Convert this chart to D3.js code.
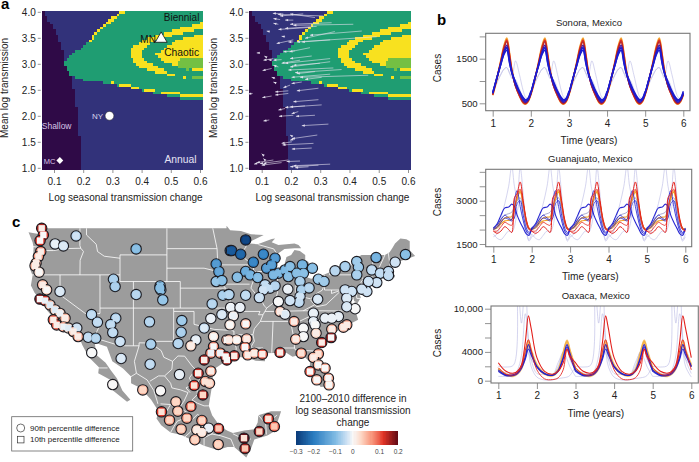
<!DOCTYPE html>
<html>
<head>
<meta charset="utf-8">
<script src="https://cdnjs.cloudflare.com/ajax/libs/d3/7.8.5/d3.min.js"></script>
<style>
html, body { margin: 0; padding: 0; background: #fff; }
text { font-family: "Liberation Sans", Arial, sans-serif; }
</style>
</head>
<body>
<svg id="fig" width="699" height="462"></svg>
<script>
// ---- panel a regimes, outlines in (log seasonal change, mean log transmission)
var shallowOutline = [[.04,4.1],[.063,4.03],[.109,3.58],[.132,3.26],[.138,3.0],[.16,2.75],[.175,2.3],[.186,1.66],[.195,.95],[.04,.95]];
var chaosOutline = [[.134,2.97],[.143,3.13],[.178,3.26],[.214,3.42],[.258,3.71],[.315,3.97],[.347,4.05],[.61,4.05],[.61,2.3],[.53,2.35],[.429,2.46],[.303,2.62],[.2,2.7],[.16,2.78]];
var yellowBand = [[.21,3.42],[.25,3.71],[.31,3.97],[.32,4.05],[.351,4.05],[.326,3.94],[.263,3.68],[.218,3.39]];
var crescentOuter = [[.61,3.81],[.52,3.68],[.429,3.52],[.372,3.36],[.355,3.17],[.395,2.94],[.452,2.85],[.49,2.85],[.474,2.91],[.429,3.01],[.4,3.17],[.4,3.26],[.429,3.42],[.52,3.58],[.61,3.68]];
var centreBlob = [[.61,3.58],[.53,3.49],[.48,3.33],[.452,3.2],[.469,3.07],[.52,2.97],[.566,2.91],[.61,2.85]];
var lightPatch = [[.53,3.1],[.61,3.15],[.61,2.95],[.58,2.95],[.56,2.88],[.52,2.95]];
var yellowDashes = [[.297,.309,2.64,2.69],[.328,.36,2.58,2.62],[.363,.395,2.53,2.58],[.408,.446,2.48,2.53],[.463,.531,2.43,2.48],[.531,.61,2.36,2.41],[.49,.515,2.78,2.83],[.54,.555,2.73,2.77]];
var lightDashes = [[.575,.61,2.75,2.79]];
var regimeColors = {shallow: "#2f0a47", annual: "#32327a", green: "#1f9d72", yellow: "#f8e11f", light: "#74c043"};

var tickX = [.1,.2,.3,.4,.5,.6];
var tickY = [1,1.5,2,2.5,3,3.5,4];

// x tail, y tail, x head, y head
var arrowRows = [
[.174,3.96,.138,3.97],[.311,3.92,.155,3.95],[.242,3.96,.163,3.92],[.282,3.89,.197,3.96],[.163,3.85,.14,3.87],
[.208,3.84,.18,3.84],[.157,3.76,.14,3.78],[.339,3.79,.197,3.76],[.413,3.76,.208,3.74],[.265,3.70,.157,3.66],
[.126,3.62,.117,3.63],[.288,3.72,.18,3.68],[.442,3.63,.265,3.55],[.35,3.62,.248,3.49],[.493,3.52,.22,3.42],
[.334,3.46,.237,3.42],[.208,3.42,.191,3.42],[.208,3.46,.151,3.39],[.18,3.52,.168,3.53],[.265,3.31,.195,3.23],
[.214,3.25,.174,3.23],[.089,3.21,.083,3.21],[.115,3.13,.109,3.15],[.14,3.10,.106,3.07],[.134,3.07,.123,3.08],
[.168,3.08,.14,3.07],[.231,3.07,.168,3.01],[.271,3.15,.197,3.10],[.334,3.10,.18,3.01],[.299,3.01,.208,2.97],
[.334,3.04,.197,2.94],[.134,2.91,.103,2.87],[.157,2.94,.14,2.97],[.345,2.92,.191,2.88],[.373,2.89,.214,2.83],
[.282,2.85,.22,2.81],[.464,2.78,.231,2.74],[.334,2.80,.202,2.74],[.305,2.74,.248,2.70],[.146,2.72,.134,2.74],
[.149,2.63,.14,2.65],[.237,2.65,.202,2.62],[.197,2.59,.174,2.54],[.294,2.53,.22,2.48],[.191,2.48,.146,2.46],
[.191,2.43,.146,2.40],[.069,2.43,.054,2.42],[.134,2.38,.102,2.35],[.294,2.31,.208,2.27],[.18,2.14,.157,2.11],
[.248,2.19,.18,2.16],[.305,2.21,.197,2.17],[.225,2.08,.202,2.04],[.208,2.01,.159,1.99],[.282,2.01,.217,1.99],
[.126,1.92,.106,1.90],[.328,1.84,.237,1.81],[.203,1.61,.197,1.63],[.29,1.63,.203,1.56],[.214,1.56,.197,1.53],
[.203,1.50,.168,1.47],[.277,1.47,.171,1.44],[.271,1.38,.203,1.36],[.106,1.24,.1,1.27],[.111,1.15,.106,1.18],
[.191,1.15,.094,1.08],[.14,1.15,.083,1.10],[.168,1.10,.1,1.05],[.117,1.10,.106,1.06],[.231,1.13,.185,1.12],
[.334,1.07,.208,1.04],[.294,1.05,.197,1.02],[.26,1.02,.214,1.0],[.092,1.10,.074,1.07]];

// ---- panel b, one repeating cycle of cases per location
var sonoraT = [0,.1,.2,.3,.37,.44,.5,.6,.7,.8,.86,.93,1];
var sonoraOrange = [680,1010,1400,1800,1960,1620,1260,900,680,510,480,540,690];
var sonoraRed = [690,1020,1390,1770,1920,1600,1250,890,670,520,490,550,700];
var sonoraDark = [700,1030,1380,1740,1880,1560,1240,880,680,530,500,560,700];
var sonoraPurple = [720,1040,1360,1680,1800,1500,1210,900,720,560,520,570,720];
var sonoraBlue = [730,1040,1340,1640,1750,1450,1190,950,750,600,550,590,740];
var sonoraBlue2 = [740,1040,1330,1600,1690,1400,1200,980,780,630,580,620,770];
var sonoraPale = [720,960,1130,1270,1300,1180,1060,1450,1150,780,640,600,720];
var sonoraPale2 = [700,930,1120,1270,1300,1180,1100,1030,830,620,560,600,700];

var guanaT = [0,.1,.2,.3,.4,.48,.55,.62,.7,.78,.86,.93,1];
var guanaBlue = [2050,2200,2500,2750,2780,2880,2800,2500,2250,2050,1850,1800,2050];
var guanaBlue2 = [2000,2080,2250,2400,2350,2300,2400,2900,3000,2500,2050,1900,2000];
var guanaBlue3 = [2020,2150,2350,2500,2400,2350,3000,3350,2800,2300,1950,1850,2020];
var guanaRed = [1950,1870,1950,2100,2000,1900,3100,3250,3650,3000,2350,2050,1950];
var guanaRed2 = [1950,1950,2100,2250,2180,2150,2650,3200,3400,2900,2250,2000,1950];
var guanaOrange = [2000,2050,2200,2300,2320,2350,2700,3050,3350,2900,2300,2050,2000];
var guanaOrange2 = [2020,2100,2280,2400,2430,2450,2800,3100,3300,2850,2280,2030,2020];
var guanaGrey = [2050,2150,2350,2500,2550,2600,2800,3000,3100,2700,2200,2000,2050];
var guanaPale = [1750,1850,2400,2900,3500,4200,3500,3100,4150,3200,2000,1600,1750];
var guanaPale2 = [1850,1700,1650,1800,1950,1900,2100,2600,3000,2400,1900,1650,1850];

var oaxacaT = [0,.2,.4,.5,.6,.7,.78,.85,1,1.2,1.4,1.55,1.68,1.78,1.85,2];
var oaxacaRed = [2500,1300,1050,1350,2200,5400,9000,7300,3200,1300,900,1300,2500,4400,3500,2500];
var oaxacaRed2 = [1800,900,800,1100,1900,4200,5700,4300,1500,250,150,400,1500,4400,3300,1800];
var oaxacaOrange = [1700,900,750,1100,1900,3700,5500,4300,2200,1000,750,1500,3800,5600,4300,1700];
var oaxacaOrange2 = [1500,800,650,950,1700,3400,5000,4000,2000,900,700,1400,3600,5400,4100,1500];
var oaxacaBlue = [1500,800,850,1150,1900,3300,5000,4000,2000,1000,750,1400,3200,5000,3900,1500];
var oaxacaBlue2 = [1300,700,750,1000,1700,3000,4400,3600,1900,950,750,1300,3000,4700,3500,1300];
var oaxacaPale = [2000,1900,2200,14000,8000,14000,5000,2000,500,100,100,300,400,500,700,2000];
var oaxacaPale2 = [600,600,700,1500,3500,9300,6000,3000,1000,900,800,2000,4000,3000,2000,600];
var oaxacaPale3 = [1500,1100,1000,1300,2300,4500,3800,3000,2000,1000,800,2500,4000,4500,3000,1500];

var yearTicks = [1,2,3,4,5,6];
var lineBlue = "#1c1cd0", lineRed = "#e3201c", lineOrange = "#f2a52e", linePale = "#bcbce6";

// ---- panel c map, lon/lat
var landOutline = [[-122.8,49],[-95.15,49],[-95.15,49.4],[-94.6,48.7],[-93,48.6],[-91.5,48.1],[-89.6,48],[-92.1,46.75],[-90.5,46.6],[-88.4,47.4],[-87.9,47.47],[-88.4,46.9],[-87.4,46.5],[-85,46.7],[-84.4,46.5],[-84,46],[-85,46],[-86.5,45.9],[-87.6,45.1],[-88,44.55],[-87.3,45.2],[-87.5,44.2],[-87.9,43],[-87.8,42.2],[-87.5,41.7],[-86.9,41.7],[-86.3,42.4],[-86.5,43.6],[-86.2,44.7],[-85.5,45],[-85,45.75],[-84.2,45.6],[-83.4,45],[-83.4,44],[-83.9,43.7],[-83,44.05],[-82.45,43],[-83.1,42.2],[-83.4,41.7],[-82.5,41.4],[-81.2,41.8],[-79,42.7],[-79,43.25],[-76.8,43.3],[-76.2,43.6],[-76.3,44.2],[-75,45],[-71.5,45],[-70.8,45.4],[-70.3,46.2],[-70,46.7],[-69.2,47.45],[-68.3,47.35],[-67.8,47.05],[-67.8,45.7],[-67,44.85],[-68.5,44.3],[-70,43.8],[-70.7,43],[-70.8,42.6],[-71,42.3],[-70.6,41.95],[-70,42],[-70,41.65],[-71.2,41.5],[-72.9,41.25],[-73.7,40.95],[-72,41.05],[-74,40.55],[-74.1,39.7],[-74.9,38.95],[-75.5,39.5],[-75.1,38.6],[-75.9,37.2],[-76.2,38.5],[-76.4,39.2],[-76.5,38],[-76.3,37],[-75.9,36.6],[-75.5,35.25],[-76.6,34.7],[-77.9,33.9],[-79.1,33.3],[-81,32.05],[-81.4,30.7],[-81.3,29.8],[-80.5,28.3],[-80.05,26.8],[-80.4,25.2],[-81.1,25.15],[-81.8,26.1],[-82.7,27.8],[-82.7,28.9],[-83.9,30.05],[-85.3,29.7],[-86.4,30.4],[-88,30.25],[-89.5,30.2],[-89.4,29],[-90.8,29.1],[-92,29.55],[-93.8,29.7],[-95,29.2],[-97.2,27.7],[-97.2,26],[-97.8,22.3],[-97.3,20.9],[-96.1,19.2],[-95,18.55],[-94.2,18.2],[-92.5,18.6],[-91,18.8],[-90.5,19.8],[-90.4,20.9],[-88.5,21.5],[-87,21.5],[-87.5,20],[-88,18.5],[-88.9,17.9],[-89.15,17.8],[-91,17.25],[-91.4,16.1],[-92.2,14.55],[-94,16.1],[-95,16.1],[-96.5,15.65],[-98.5,16.3],[-100,17],[-102,17.95],[-103.5,18.3],[-104.9,19.4],[-105.6,20.4],[-105.3,21.5],[-106.4,23.2],[-108,25],[-109.4,25.7],[-109.4,26.7],[-110.6,27.9],[-112.2,29],[-113,31.2],[-114.8,31.8],[-114.7,30.8],[-114.6,30],[-113.2,28.8],[-112.4,27.6],[-111.5,26.4],[-110.7,24.6],[-109.5,23.2],[-110,22.9],[-112.1,24.6],[-112.1,26],[-114.3,27.2],[-114.2,28.1],[-115.7,29.6],[-116.7,31.5],[-117.1,32.53],[-117.3,33],[-118.4,33.75],[-118.5,34.03],[-119.2,34.15],[-120.6,34.55],[-120.7,35.2],[-121.9,36.6],[-122.5,37.7],[-123.8,39.3],[-124.35,40.4],[-124.1,41.9],[-124.5,42.9],[-124,44.7],[-123.95,46.2],[-124.1,46.9],[-124.7,48.4],[-123.2,48.15],[-122.7,48.1]];

var stateLines = [
[[-124,46.25],[-123,46.1],[-122.8,45.65],[-121,45.65],[-119.3,45.95],[-116.9,46]],
[[-117.03,49],[-117.04,46.4],[-116.9,46],[-116.5,45.5],[-117,44.2],[-117.03,42]],
[[-124.2,42],[-111.05,42]],[[-120,42],[-120,39],[-114.63,35],[-114.1,34.3],[-114.5,33.5],[-114.72,32.72]],
[[-114.04,42],[-114.04,36.2],[-114.75,36.1],[-114.63,35]],[[-114.04,37],[-94.62,37]],
[[-109.05,41],[-109.05,31.33]],[[-111.05,45],[-111.05,41],[-102.05,41]],[[-111.05,45],[-104.05,45]],[[-104.05,49],[-104.05,41]],
[[-116.05,49],[-116.05,48],[-114.6,46.6],[-114.4,45.5],[-113.4,44.8],[-111.05,44.5]],
[[-104.05,45.94],[-96.56,45.94]],[[-104.05,43],[-98.5,43],[-96.45,42.5]],
[[-102.05,41],[-102.05,37]],[[-102.05,40],[-95.3,40]],
[[-103.04,37],[-103.04,32],[-106.6,32],[-106.5,31.75]],
[[-103,36.5],[-100,36.5],[-100,34.56],[-97,33.8],[-94.5,33.65],[-94.04,33.55],[-94.04,32],[-93.7,31],[-93.8,29.7]],
[[-94.04,33],[-91.2,33]],[[-94.43,35.4],[-94.5,33.65]],[[-95.3,40],[-94.62,39.1],[-94.62,36.5],[-94.43,35.4]],
[[-94.62,36.5],[-90.15,36.5],[-90.37,36],[-89.7,36]],
[[-97.2,49],[-96.56,45.94],[-96.45,43.5],[-91.2,43.5]],[[-95.8,40.6],[-91.7,40.6]],[[-96.45,43.5],[-96.45,42.5],[-95.8,40.6],[-95.3,40]],
[[-92.1,46.75],[-92.3,46.1],[-92.8,45.5],[-92.8,44.75],[-91.2,43.5],[-91.1,42.7],[-90.2,41.8],[-91.1,41.2],[-91.4,40.4],[-91.5,40],[-90.7,39],[-90.2,38.7],[-89.5,37.3],[-89.15,37],[-89.7,36],[-90.1,35],[-91,33.9],[-91.2,33],[-91,32],[-91.6,31],[-89.7,31],[-89.8,30.5],[-89.5,30.2]],
[[-90.6,42.5],[-87.8,42.5]],[[-90.4,46.55],[-88.1,45.9],[-87.6,45.1]],[[-87.53,41.7],[-87.53,39.3],[-88,37.9]],
[[-89.15,37],[-88,37.9],[-86.5,38],[-85.7,38.3],[-84.8,39.1],[-83.7,38.65],[-82.6,38.4],[-81.7,39.2],[-80.85,39.7],[-80.52,40.65]],
[[-84.8,39.1],[-84.8,41.72]],[[-86.8,41.76],[-84.8,41.72],[-83.4,41.73]],[[-80.52,39.72],[-80.52,42]],
[[-79.76,42.25],[-79.76,42],[-75.35,42],[-74.7,41.35],[-75.1,40.9],[-74.75,40.2],[-75.5,39.8]],[[-80.52,39.72],[-75.8,39.72],[-75.7,38.46],[-75.05,38.45]],
[[-75.9,37.95],[-76.3,38],[-77.05,38.8],[-78.3,39.6],[-79.48,39.2],[-79.48,39.72]],[[-78.3,39.4],[-80.3,37.5],[-81.7,37.2],[-82,37.5],[-82.6,38.2]],
[[-75.9,36.55],[-81.7,36.6],[-83.7,36.6],[-88.05,36.5],[-89.4,36.5]],[[-83.7,36.6],[-82,37.5]],[[-90.1,35],[-84.3,35],[-82,36.1],[-81.7,36.6]],
[[-83.1,35],[-82.4,35.2],[-81,35.1],[-80.8,34.8],[-79.7,34.8],[-78.6,33.85]],[[-83.1,35],[-81.4,33],[-81,32.05]],
[[-85.6,35],[-85.1,32.5],[-85,31],[-84.85,30.7],[-82.2,30.55],[-81.4,30.7]],[[-87.6,31],[-85,31]],[[-87.6,31],[-87.5,30.3]],[[-88.2,35],[-88.4,30.3]],
[[-73.35,45],[-73.3,42.75],[-73.5,41.3]],[[-71.5,45],[-72.4,43],[-72.45,42.72]],[[-73.27,42.75],[-71.3,42.7],[-70.8,42.85]],
[[-73.5,42.05],[-71.4,42],[-71.2,41.5]],[[-71.8,42],[-71.85,41.3]],[[-71,45.3],[-70.7,43.1]],
// mexico border and states
[[-117.1,32.53],[-114.72,32.72],[-114.8,32.5],[-111,31.33],[-108.2,31.33],[-108.2,31.78],[-106.5,31.75],[-104.9,30.6],[-104.5,29.6],[-103.2,29],[-102.4,29.8],[-101.4,29.77],[-100.3,28.3],[-99.5,27.5],[-99.1,26.4],[-97.2,26]],
[[-114.9,28],[-112.9,28]],[[-108.2,31.33],[-108.9,29],[-108.6,27.2],[-109.4,26.7]],[[-108.6,27.2],[-107,26.2],[-106,24.6],[-105.5,23],[-105.4,22.6]],
[[-103.2,29],[-103.3,27.8],[-104.4,26.8],[-105.3,26.8],[-106.6,26]],[[-104.4,26.8],[-103.5,25.7],[-103.3,25],[-102,24.7],[-100.9,24.3],[-101.5,23],[-102.2,22],[-102.8,21.8],[-103.5,22.5],[-105,22.6]],
[[-99.8,27.7],[-100.7,26.5],[-100.2,25.5],[-101.2,25],[-100.6,24.3]],[[-99.1,26.4],[-99.6,25.5],[-99.5,24],[-100.3,23.2],[-99.5,22.7],[-98.5,22.3],[-97.8,22.3]],
[[-103.5,18.3],[-103,19.2],[-102.5,20],[-101.5,20.4],[-100.5,20]],[[-105.3,21.5],[-104.4,21],[-103.5,22.5]],[[-98.5,16.3],[-98.5,17.5],[-97.3,18.1],[-97.1,19.2]],
[[-97.5,18.1],[-96,17.8],[-94.5,17.3],[-94,16.1]],[[-94.2,18.1],[-93,17.5],[-91.5,17.3]],[[-90.4,20.9],[-89.3,19.6],[-89.2,18]],[[-89.3,19.6],[-87.6,20.9]],
[[-101.5,17.5],[-100.5,18.4],[-100.3,19.1],[-98.7,19.2]],[[-100.5,20],[-99.5,21],[-98.5,20.5],[-98.7,19.2]],[[-102.2,22],[-101,21.3],[-100.5,20]]];

// lon, lat, 90th percentile difference, 10th percentile difference
var cityRows = [
[-117.6,47.85,-.05,-.03],[-120.74,46.65,-.02,-.01],[-119.5,46.35,-.03,-.02],[-108.64,45.9,-.1,-.09],[-120,39.5,-.03,-.02],
[-115.3,36.03,-.06,-.04],[-114.42,34.88,-.05,-.04],[-111.68,35.48,-.06,-.04],[-112.43,34.52,-.06,-.04],[-112.13,33.32,-.05,-.04],[-111.03,31.97,-.04,-.03],
[-112.03,41.34,-.07,-.06],[-111.78,40.24,-.07,-.06],[-105.06,40.34,-.1,-.09],[-104.96,39.74,-.1,-.09],[-105.1,40,-.1,-.09],[-104.66,38.23,-.08,-.08],[-108.64,39.04,-.06,-.05],
[-106.65,34.93,-.06,-.05],[-101.82,35.13,-.08,-.07],[-101.92,33.37,-.07,-.06],[-102.37,31.67,-.06,-.05],[-106.45,31.57,-.07,-.06],[-110.88,29.42,-.03,-.02],[-106.55,28.56,-.05,-.04],[-102.17,27,-.02,-.01],
[-115.8,32.62,-.05,-.04],[-114.67,32.47,-.07,-.05],[-115.27,30.3,-.005,0],[-112.13,25.5,.005,0],
[-99.73,32.22,-.02,-.01],[-100.47,31.32,.03,.01],[-98.48,34,-.04,-.02],[-97.49,35.43,-.01,-.01],[-95.84,36.03,-.03,-.02],[-97.29,37.63,-.06,-.05],[-95.69,38.93,-.07,-.06],[-94.85,39.03,-.07,-.06],
[-96.69,43.64,-.17,-.15],[-96.29,42.49,-.15,-.13],[-96.69,40.99,-.08,-.08],[-95.84,41.14,-.1,-.09],[-94.6,45.65,-.27,-.25],
[-92.29,47.25,-.3,-.28],[-94.38,45.65,-.27,-.25],[-93.04,45.1,-.25,-.23],[-91.15,43.9,-.2,-.18],[-89.65,45.1,-.2,-.18],[-87.91,44.5,-.17,-.15],[-89.16,43,-.17,-.14],[-88.41,43.5,-.17,-.14],[-87.41,42.24,-.12,-.1],[-88.16,42,-.12,-.1],
[-92.29,42.5,-.13,-.12],[-91.64,42,-.12,-.11],[-90.5,41.6,-.11,-.09],[-93.54,41.64,-.1,-.09],[-86.42,42.74,-.12,-.1],[-85.67,43.24,-.1,-.09],[-85.92,41.74,-.1,-.09],[-83.83,43.5,-.12,-.11],[-82.33,43,-.1,-.09],[-83.68,42.24,-.1,-.09],[-84.67,42.24,-.1,-.09],
[-81.44,41.34,-.08,-.07],[-80.59,41,-.08,-.07],[-78.95,42.6,-.05,-.05],[-77.45,43.24,-.07,-.06],[-75.71,44,-.08,-.07],[-75.46,43.14,-.08,-.07],[-75.71,42,-.07,-.06],[-73.47,42.74,-.05,-.04],[-72.82,44.6,-.12,-.11],[-69.98,43.9,-.03,-.03],[-68.44,45.05,-.1,-.09],
[-72.22,42.24,-.05,-.04],[-70.98,42.49,-.05,-.04],[-70.98,41.9,-.05,-.04],[-72.72,40.84,-.04,-.03],[-73.97,41,-.04,-.03],[-74.2,39.5,-.04,-.03],[-74.96,39.84,-.03,-.03],
[-89.4,40.5,-.05,-.04],[-88.66,40,-.05,-.04],[-87.91,40.34,-.06,-.05],[-89.65,39.74,-.04,-.03],[-86,39.84,-.01,-.01],[-84.18,41,-.07,-.06],[-83.93,39.74,-.07,-.06],[-82.83,40.04,-.06,-.05],[-84.18,38.74,-.04,-.03],[-84.33,37.88,-.05,-.04],[-85.67,38.13,-.03,-.03],[-81.54,38.33,-.03,-.02],[-87.41,37.98,-.005,0],[-90.25,38.58,-.04,-.03],[-92.29,38.93,-.05,-.04],[-94.78,39.03,-.06,-.05],
[-77.45,39.74,-.04,-.03],[-76.46,39.5,-.04,-.03],[-77.2,38.5,-.03,-.02],[-75.96,36.9,-.002,0],[-77.2,37.2,-.03,-.02],
[-94.53,37.1,0,-.01],[-93.14,37.1,-.01,-.01],[-94.13,35.83,.01,-.01],[-94.63,34.48,.02,0],[-92.29,34.63,.05,0],
[-87.16,36.48,.04,.01],[-86.42,36.08,-.01,-.02],[-85.07,34.98,.06,.01],[-82.18,36.23,-.02,-.01],[-82.18,34.98,-.02,-.01],[-80.44,35.48,-.015,-.01],[-78.45,35.73,-.02,-.01],[-79.44,35.48,-.01,-.01],[-81.93,34.48,-.01,0],[-83.68,33.98,-.005,0],[-83.68,32.72,-.005,0],[-84.82,32.32,.05,.01],[-81.78,33.22,.03,.01],[-79.44,33.82,.05,.01],[-77.2,34.48,.06,.01],[-77.7,34.13,.05,.01],
[-122.74,49,.15,.01],[-122.49,48,.12,0],[-122.98,47.15,.12,0],[-122.88,45.5,.08,.01],[-123.23,44.75,.07,.01],[-123.58,43.75,.05,.01],[-123.73,43.35,.05,.01],[-123.13,42.4,.02,0],
[-122.6,40.5,.05,.01],[-122,39.75,.03,0],[-123,38.35,.18,0],[-122.24,38.13,.12,-.01],[-121.5,37.48,.05,-.02],[-120.74,36.73,.03,-.02],[-120,36.2,.03,-.01],[-119.25,35.48,.05,.01],[-121,35.23,.1,.01],[-120.5,34.47,.1,.01],[-119.5,34.2,.06,-.01],[-118.75,34,.03,-.02],[-117.5,34,-.03,-.03],[-118,33.47,.05,.01],[-117.3,32.72,.06,.01],
[-97.09,32.72,.03,0],[-95.1,32.22,.06,0],[-97.09,31.22,.08,0],[-97.49,30.22,.08,-.01],[-98.48,29.2,.16,.01],[-96.09,30.22,.07,-.01],[-95.1,29.2,.15,0],[-99.38,27.2,.14,.01],[-97.49,27.51,.06,.01],[-98.33,25.96,.06,.02],[-97.69,25.7,.05,.02],[-99.98,25.36,.12,.02],[-98.68,23.95,.16,.03],
[-94.78,32.22,.05,.01],[-93.64,32.22,.03,0],[-92.14,32.37,.05,.01],[-92.39,31.12,.08,0],[-91.99,29.97,.07,.01],[-91,30.22,.06,.01],[-89.8,30.07,.1,.01],[-87.16,30.32,.14,.01],[-84,30.22,.07,.02],[-81.44,30.12,.07,.02],[-82.18,29.57,.05,.01],[-81.44,28.46,.05,0],[-80.44,27.96,.06,0],[-82.68,27.46,.1,0],[-81.68,26.21,.05,0],[-79.94,26.46,.06,0],[-79.84,25.46,.05,0],[-93.99,29.82,.14,.01],[-95.28,29.72,.15,0],
[-79.54,32.57,.17,0],[-80.94,31.82,.15,.01],
[-107.65,24.7,.05,.03],[-105,24.56,.005,0],[-102.7,22.9,.04,.03],[-100.47,22.2,.1,.03],[-104.86,21.4,.12,.02],[-102.42,21.5,.05,.03],[-103.66,20.15,.07,.03],[-101.07,20.45,.07,.03],[-98.83,20.1,.07,.03],[-96.34,18.9,.14,.04],[-97.83,18.95,-.01,-.01],[-99.58,18.7,.03,.01],[-98.83,18.3,.03,.01],[-101.92,18.8,.05,.03],[-99.88,17.2,.05,.03],[-96.39,16.5,.05,.03],
[-88.91,20.35,.12,.02],[-88.01,19.2,.1,.04],[-90.25,18.44,.17,.03],[-92.54,17.44,.2,.02],[-92.39,15.89,.16,.04]];

var legendTitle = ["2100\u20132010 difference in", "log seasonal transmission", "change"];
var barTicks = [-.3,-.2,-.1,0,.1,.2];
var barLabels = ["\u22120.3","\u22120.2","\u22120.1","0","0.1","0.2"];
var diffStops = [-.3,-.2,-.1,-.03,0,.03,.07,.12,.2];
var diffColors = ["#0a3a78","#2a7cc0","#7fbae3","#d0e3f4","#f8f8f8","#fdd8c6","#f8977c","#e23426","#5f0a14"];

var svg = d3.select("#fig");
var textCol = "#222";

function styleAxis(g, size) {
    g.select(".domain").remove();
    g.selectAll("line").attr("stroke", "#777").attr("stroke-width", 0.8);
    g.selectAll("text").attr("fill", textCol).attr("font-size", size + "px").attr("font-family", "Liberation Sans");
}

function regimeAt(cx, cy) {
    var p = [cx, cy];
    var hit = function(d) { return cx >= d[0] && cx <= d[1] && cy >= d[2] && cy <= d[3]; };
    if (d3.polygonContains(shallowOutline, p)) return "shallow";
    if (!d3.polygonContains(chaosOutline, p)) return "annual";
    if (lightDashes.some(hit) || d3.polygonContains(lightPatch, p)) return "light";
    if (yellowDashes.some(hit)) return "yellow";
    if (d3.polygonContains(yellowBand, p) || d3.polygonContains(crescentOuter, p) || d3.polygonContains(centreBlob, p)) return "yellow";
    return "green";
}

function drawRegime(left, right, titleX, xTitleAt, withArrows) {
    var x = d3.scaleLinear().domain([.1,.6]).range([left, right]);
    var y = d3.scaleLinear().domain([1,4]).range([167.8, 11.8]);
    var g = svg.append("g").attr("shape-rendering", "crispEdges");
    var stepX = .0095, stepY = .05;
    var cells = [];
    d3.range(.058, .601, stepX).forEach(function(cx) {
        d3.range(.975, 4.02, stepY).forEach(function(cy) {
            cells.push({x: cx, y: cy, r: regimeAt(cx + stepX / 2, cy + stepY / 2)});
        });
    });
    g.selectAll("rect").data(cells).enter().append("rect")
        .attr("x", function(d) { return x(d.x); })
        .attr("y", function(d) { return y(d.y + stepY); })
        .attr("width", x(stepX) - x(0) + .6)
        .attr("height", y(0) - y(stepY) + .6)
        .attr("fill", function(d) { return regimeColors[d.r]; });

    var ax = svg.append("g").attr("transform", "translate(0,170)")
        .call(d3.axisBottom(x).tickValues(tickX).tickSize(3).tickPadding(5).tickFormat(d3.format(".1f")));
    styleAxis(ax, 10);
    var ay = svg.append("g").attr("transform", "translate(" + (x(.058) - 1) + ",0)")
        .call(d3.axisLeft(y).tickValues(tickY).tickSize(3).tickPadding(2).tickFormat(d3.format(".1f")));
    styleAxis(ay, 10);

    svg.append("text").attr("x", xTitleAt).attr("y", 200.5).attr("text-anchor", "middle")
        .attr("font-size", "10px").attr("fill", textCol).text("Log seasonal transmission change");
    svg.append("text").attr("transform", "translate(" + titleX + ",88) rotate(-90)").attr("text-anchor", "middle")
        .attr("font-size", "10px").attr("fill", textCol).text("Mean log transmission");

    if (withArrows) {
        var arrows = svg.append("g");
        arrows.selectAll("line").data(arrowRows).enter().append("line")
            .attr("x1", function(d) { return x(d[0]); }).attr("y1", function(d) { return y(d[1]); })
            .attr("x2", function(d) { return x(d[2]); }).attr("y2", function(d) { return y(d[3]); })
            .attr("stroke", "#e4e0ee").attr("stroke-width", 0.6);
        arrows.selectAll("path").data(arrowRows).enter().append("path")
            .attr("d", "M0,0L3,-1.2L3,1.2Z").attr("fill", "#e4e0ee")
            .attr("transform", function(d) {
                var a = Math.atan2(y(d[1]) - y(d[3]), x(d[0]) - x(d[2])) * 180 / Math.PI;
                return "translate(" + x(d[2]) + "," + y(d[3]) + ") rotate(" + a + ")";
            });
    }
    return {x: x, y: y};
}

var left = drawRegime(54, 200, 8, 125.6, false);
drawRegime(261.7, 408, 217, 332.4, true);

// labels and named places on the left panel
function regimeLabel(tx, ty, txt, col, size, anchor) {
    svg.append("text").attr("x", left.x(tx)).attr("y", left.y(ty)).attr("dy", ".35em")
        .attr("text-anchor", anchor || "middle").attr("font-size", size + "px").attr("fill", col).text(txt);
}
regimeLabel(.537, 3.885, "Biennial", "#111", 10);
regimeLabel(.537, 3.21, "Chaotic", "#111", 10.3);
regimeLabel(.533, 1.17, "Annual", "#e6e2f4", 10.3);
regimeLabel(.109, 1.8, "Shallow", "#d9c4e6", 8.5);
regimeLabel(.268, 1.99, "NY", "#d8d4ee", 8, "end");
regimeLabel(.449, 3.47, "MN", "#111", 10, "end");
regimeLabel(.105, 1.13, "MC", "#d9c4e6", 7.5, "end");
svg.append("circle").attr("cx", left.x(.29)).attr("cy", left.y(2)).attr("r", 4.4).attr("fill", "#fff").attr("stroke", "#222").attr("stroke-width", .5);
svg.append("path").attr("d", d3.symbol(d3.symbolTriangle, 62)())
    .attr("transform", "translate(" + left.x(.467) + "," + left.y(3.48) + ")").attr("fill", "#fff").attr("stroke", "#111").attr("stroke-width", .8);
svg.append("path").attr("d", d3.symbol(d3.symbolDiamond2 || d3.symbolDiamond, 30)())
    .attr("transform", "translate(" + left.x(.12) + "," + left.y(1.14) + ")").attr("fill", "#fff");

// panel b time series
function drawSeries(p) {
    var x = d3.scaleLinear().domain([1,6]).range(p.xr);
    var y = d3.scaleLinear().domain(p.yd).range(p.yr);
    var id = "clip" + p.name.slice(0, 3);
    svg.append("clipPath").attr("id", id).append("rect")
        .attr("x", p.box[0]).attr("y", p.box[1]).attr("width", p.box[2] - p.box[0]).attr("height", p.box[3] - p.box[1]);
    var line = d3.line().x(function(d) { return x(d[0]); }).y(function(d) { return y(d[1]); }).curve(d3.curveCatmullRom);
    var g = svg.append("g").attr("clip-path", "url(#" + id + ")");
    p.series.forEach(function(s) {
        var pts = [];
        for (var start = 1; start < 6; start += p.period) {
            p.t.forEach(function(t, i) {
                if (start + t <= 6.001) pts.push([start + t, s.v[i]]);
            });
        }
        g.append("path").attr("d", line(pts)).attr("fill", "none")
            .attr("stroke", s.c).attr("stroke-width", s.w).attr("stroke-opacity", s.o);
    });
    svg.append("rect").attr("x", p.box[0]).attr("y", p.box[1]).attr("width", p.box[2] - p.box[0]).attr("height", p.box[3] - p.box[1])
        .attr("fill", "none").attr("stroke", "#777").attr("stroke-width", 1.1);
    var ax = svg.append("g").attr("transform", "translate(0," + p.box[3] + ")")
        .call(d3.axisBottom(x).tickValues(yearTicks).tickSize(6).tickPadding(3).tickFormat(d3.format("d")));
    styleAxis(ax, 10);
    var ay = svg.append("g").attr("transform", "translate(" + p.box[0] + ",0)")
        .call(d3.axisLeft(y).tickValues(p.ticks).tickSize(6).tickPadding(2).tickFormat(function(d) { return p.labels[d] || ""; }));
    styleAxis(ay, 9.6);
    svg.append("text").attr("x", (p.xr[0] + p.xr[1]) / 2 + 1).attr("y", p.box[1] - 7).attr("text-anchor", "middle")
        .attr("font-size", "9.5px").attr("fill", textCol).text(p.name);
    svg.append("text").attr("x", (p.xr[0] + p.xr[1]) / 2 + 1).attr("y", p.box[3] + 33.5).attr("text-anchor", "middle")
        .attr("font-size", "10.2px").attr("fill", textCol).text("Time (years)");
    svg.append("text").attr("transform", "translate(" + p.yTitle[0] + "," + p.yTitle[1] + ") rotate(-90)").attr("text-anchor", "middle")
        .attr("font-size", "10px").attr("fill", textCol).text("Cases");
}

function sr(v, c, w, o) { return {v: v, c: c, w: w, o: o}; }

drawSeries({name: "Sonora, Mexico", period: 1, t: sonoraT, xr: [492.7,683.3], yd: [500,1500], yr: [103.3,58.7],
    box: [485.7,33.3,690,110.7], ticks: [500,1000,1500,2000], labels: {500: "500", 1500: "1500"}, yTitle: [441,68],
    series: [sr(sonoraPale,linePale,.7,.9), sr(sonoraPale2,linePale,.7,.9), sr(sonoraOrange,lineOrange,1.8,1), sr(sonoraRed,lineRed,1.6,.9), sr(sonoraDark,"#b0222a",1.4,.9),
        sr(sonoraPurple,"#4a1a9c",1.5,1), sr(sonoraBlue,lineBlue,1.7,1), sr(sonoraBlue2,lineBlue,1.4,1)]});

drawSeries({name: "Guanajuato, Mexico", period: 1, t: guanaT, xr: [493.3,685.3], yd: [1500,3000], yr: [244,200.7],
    box: [485.7,169.3,691.7,246.7], ticks: [1500,2000,2500,3000,3500,4000], labels: {1500: "1500", 3000: "3000"}, yTitle: [441,202],
    series: [sr(guanaPale,linePale,.7,.9), sr(guanaPale2,linePale,.7,.9), sr(guanaOrange,lineOrange,1.2,1), sr(guanaOrange2,lineOrange,1.2,1), sr(guanaGrey,"#7c7cb8",.8,.8),
        sr(guanaBlue,lineBlue,1.1,.95), sr(guanaBlue2,lineBlue,.9,.9), sr(guanaBlue3,lineBlue,.9,.9), sr(guanaRed,lineRed,1,1), sr(guanaRed2,lineRed,.9,.9)]});

drawSeries({name: "Oaxaca, Mexico", period: 2, t: oaxacaT, xr: [498.3,691.3], yd: [0,10000], yr: [380.7,308.7],
    box: [491,306,698.3,383], ticks: [0,2000,4000,6000,8000,10000], labels: {0: "0", 4000: "4000", 10000: "10,000"}, yTitle: [441,343],
    series: [sr(oaxacaPale,linePale,.7,.9), sr(oaxacaPale2,linePale,.7,.9), sr(oaxacaPale3,linePale,.7,.9), sr(oaxacaOrange,lineOrange,2,.7), sr(oaxacaOrange2,lineOrange,2,.6),
        sr(oaxacaBlue,lineBlue,1.2,.9), sr(oaxacaBlue2,lineBlue,1.2,.9), sr(oaxacaRed,lineRed,1.1,1), sr(oaxacaRed2,lineRed,.9,.95)]});

// panel c map
var lonX = d3.scaleLinear().domain([-111.05,-67]).range([120,415.1]);
var latY = d3.scaleLinear().domain([49,25]).range([228.3,387.9]);
var mapLine = d3.line().x(function(d) { return lonX(d[0]); }).y(function(d) { return latY(d[1]); });
var diffColor = d3.scaleLinear().domain(diffStops).range(diffColors);

svg.append("path").attr("d", mapLine(landOutline) + "Z").attr("fill", "#9c9c9c");
svg.append("g").selectAll("path").data(stateLines).enter().append("path")
    .attr("d", mapLine).attr("fill", "none").attr("stroke", "#fff").attr("stroke-width", .8);
svg.append("g").selectAll("circle").data(cityRows).enter().append("circle")
    .attr("cx", function(d) { return lonX(d[0]); }).attr("cy", function(d) { return latY(d[1]); })
    .attr("r", 5.2).attr("fill", function(d) { return diffColor(d[2]); }).attr("stroke", "#1c1c22").attr("stroke-width", 1.1);
svg.append("g").selectAll("rect").data(cityRows).enter().append("rect")
    .attr("x", function(d) { return lonX(d[0]) - 3.2; }).attr("y", function(d) { return latY(d[1]) - 3.2; })
    .attr("width", 6.4).attr("height", 6.4).attr("fill", function(d) { return diffColor(d[3]); });

// percentile key
svg.append("rect").attr("x", 11.7).attr("y", 416.7).attr("width", 121).attr("height", 34.3).attr("fill", "#fff").attr("stroke", "#666").attr("stroke-width", .8);
svg.append("circle").attr("cx", 20.7).attr("cy", 428).attr("r", 4).attr("fill", "#fff").attr("stroke", "#333").attr("stroke-width", .7);
svg.append("rect").attr("x", 17.4).attr("y", 436.3).attr("width", 6.6).attr("height", 6.6).attr("fill", "#fff").attr("stroke", "#333").attr("stroke-width", .7);
svg.append("text").attr("x", 30).attr("y", 430.8).attr("font-size", "8px").attr("fill", textCol).text("90th percentile difference");
svg.append("text").attr("x", 30).attr("y", 442.4).attr("font-size", "8px").attr("fill", textCol).text("10th percentile difference");

// colour bar
legendTitle.forEach(function(t, i) {
    svg.append("text").attr("x", 353).attr("y", 402.2 + i * 12).attr("text-anchor", "middle")
        .attr("font-size", "10px").attr("fill", textCol).text(t);
});
var barX = d3.scaleLinear().domain(barTicks).range([295.7,313.3,335,352.3,379,397.7]);
svg.append("g").attr("shape-rendering", "crispEdges").selectAll("rect").data(d3.range(-.3, .2, .004)).enter().append("rect")
    .attr("x", function(d) { return barX(d); }).attr("y", 431)
    .attr("width", function(d) { return barX(Math.min(d + .004, .2)) - barX(d) + .6; }).attr("height", 14)
    .attr("fill", function(d) { return diffColor(d); });
var barAxis = svg.append("g").attr("transform", "translate(0,445)")
    .call(d3.axisBottom(barX).tickValues(barTicks).tickSize(0).tickPadding(4).tickFormat(function(d, i) { return barLabels[i]; }));
styleAxis(barAxis, 6.5);
barAxis.selectAll("text").attr("fill", "#444");

// panel letters
[["a", 1, 9], ["b", 437, 25], ["c", 12, 227]].forEach(function(d) {
    svg.append("text").attr("x", d[1]).attr("y", d[2]).attr("font-size", "15px").attr("font-weight", "bold").attr("fill", "#000").text(d[0]);
});
</script>
</body>
</html>
